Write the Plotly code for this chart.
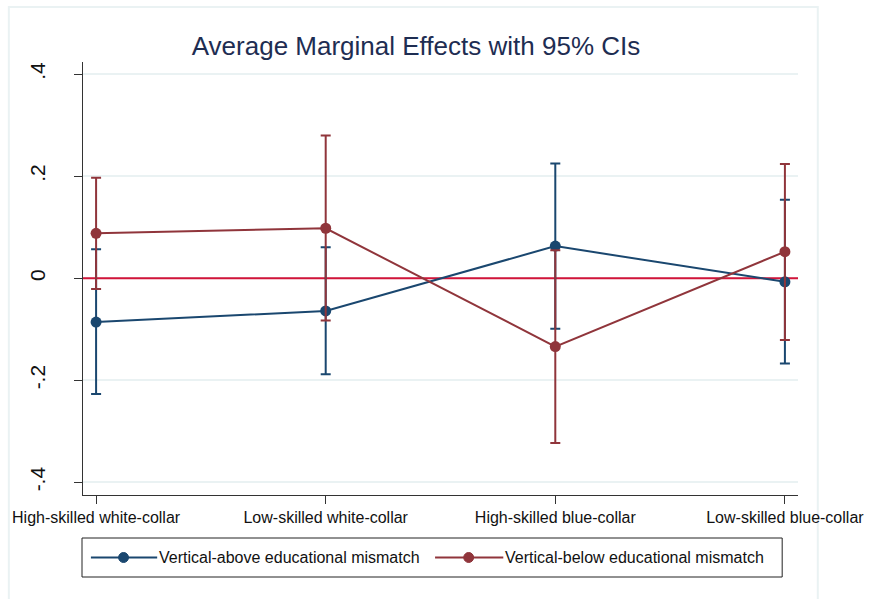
import plotly.graph_objects as go

# Occupational groups on the x axis
categories = ["High-skilled white-collar", "Low-skilled white-collar",
              "High-skilled blue-collar", "Low-skilled blue-collar"]
positions = [1, 2, 3, 4]

# Vertical-above educational mismatch: AME with 95% CI bounds
above_est = [-0.086, -0.064, 0.063, -0.007]
above_lo = [-0.227, -0.188, -0.099, -0.167]
above_hi = [0.057, 0.061, 0.225, 0.154]

# Vertical-below educational mismatch: AME with 95% CI bounds
below_est = [0.088, 0.098, -0.134, 0.052]
below_lo = [-0.021, -0.083, -0.323, -0.121]
below_hi = [0.197, 0.280, 0.055, 0.224]

y_ticks = [-0.4, -0.2, 0, 0.2, 0.4]
y_tick_text = ["-.4", "-.2", "0", ".2", ".4"]
x_range = [0.943, 4.057]

series_names = ["Vertical-above educational mismatch",
                "Vertical-below educational mismatch"]

NAVY = "#1a476f"
MAROON = "#90353b"
GRID = "#eaf2f3"
FONT = "Arial, Liberation Sans, sans-serif"

W, H = 876, 599
ML, MR, MT, MB = 81, 72, 62, 104
PW, PH = W - ML - MR, H - MT - MB


def px_x(px):
    return (px - ML) / PW


def px_y(py):
    return (H - MB - py) / PH


fig = go.Figure()

# reference line at zero, drawn beneath the series
fig.add_trace(go.Scatter(
    x=x_range, y=[0, 0], mode="lines",
    line=dict(color="#d2143a", width=2),
    hoverinfo="skip", showlegend=False,
))

for est, lo, hi, color, name in [
    (above_est, above_lo, above_hi, NAVY, series_names[0]),
    (below_est, below_lo, below_hi, MAROON, series_names[1]),
]:
    fig.add_trace(go.Scatter(
        x=positions, y=est, name=name, mode="lines+markers",
        line=dict(color=color, width=2),
        marker=dict(color=color, size=11, symbol="circle"),
        error_y=dict(type="data", symmetric=False,
                     array=[h - e for h, e in zip(hi, est)],
                     arrayminus=[e - l for e, l in zip(est, lo)],
                     color=color, thickness=2, width=5),
        showlegend=False,
    ))

shapes = [
    # faint outer graph-region frame
    dict(type="rect", xref="paper", yref="paper",
         x0=px_x(6), x1=px_x(824), y0=px_y(640), y1=px_y(7),
         line=dict(color=GRID, width=2), layer="below"),
    # legend box
    dict(type="rect", xref="paper", yref="paper",
         x0=px_x(80), x1=px_x(788), y0=px_y(577), y1=px_y(538),
         line=dict(color="#222222", width=1), fillcolor="white"),
]

annotations = []
legend_y = 557.5
for (lx0, lx1, mx, color, name) in [
    (89, 156, 122, NAVY, series_names[0]),
    (437, 506, 471, MAROON, series_names[1]),
]:
    shapes.append(dict(type="line", xref="paper", yref="paper",
                       x0=px_x(lx0), x1=px_x(lx1),
                       y0=px_y(legend_y), y1=px_y(legend_y),
                       line=dict(color=color, width=2)))
    shapes.append(dict(type="circle", xref="paper", yref="paper",
                       x0=px_x(mx - 5), x1=px_x(mx + 5),
                       y0=px_y(legend_y + 5), y1=px_y(legend_y - 5),
                       line=dict(color=color, width=1), fillcolor=color))
    annotations.append(dict(xref="paper", yref="paper",
                            x=px_x(lx1), y=px_y(legend_y),
                            xanchor="left", yanchor="middle", showarrow=False,
                            text=name, font=dict(family=FONT, size=16, color="#111111")))

fig.update_layout(
    width=W, height=H,
    margin=dict(l=ML, r=MR, t=MT, b=MB),
    paper_bgcolor="white", plot_bgcolor="white",
    font=dict(family=FONT, color="#111111"),
    title=dict(text="Average Marginal Effects with 95% CIs",
               x=416 / W, xref="container", xanchor="center",
               y=1 - 46 / H, yref="container", yanchor="middle",
               font=dict(family=FONT, size=26, color="#1e2d52")),
    shapes=shapes,
    annotations=annotations,
)

fig.update_xaxes(
    range=x_range, tickmode="array", tickvals=positions, ticktext=categories,
    showgrid=False, zeroline=False, showline=True, linecolor="#333333", linewidth=1,
    ticks="outside", ticklen=8, tickcolor="#333333",
    tickfont=dict(family=FONT, size=16, color="#111111"),
)
fig.update_yaxes(
    range=[-0.425, 0.424], tickmode="array", tickvals=y_ticks, ticktext=y_tick_text,
    showgrid=True, gridcolor=GRID, gridwidth=2, zeroline=False,
    showline=True, linecolor="#333333", linewidth=1,
    ticks="outside", ticklen=8, tickcolor="#333333", tickangle=-90,
    ticklabelstandoff=21,
    tickfont=dict(family=FONT, size=21, color="#111111"),
)

fig.write_html("out.html")
